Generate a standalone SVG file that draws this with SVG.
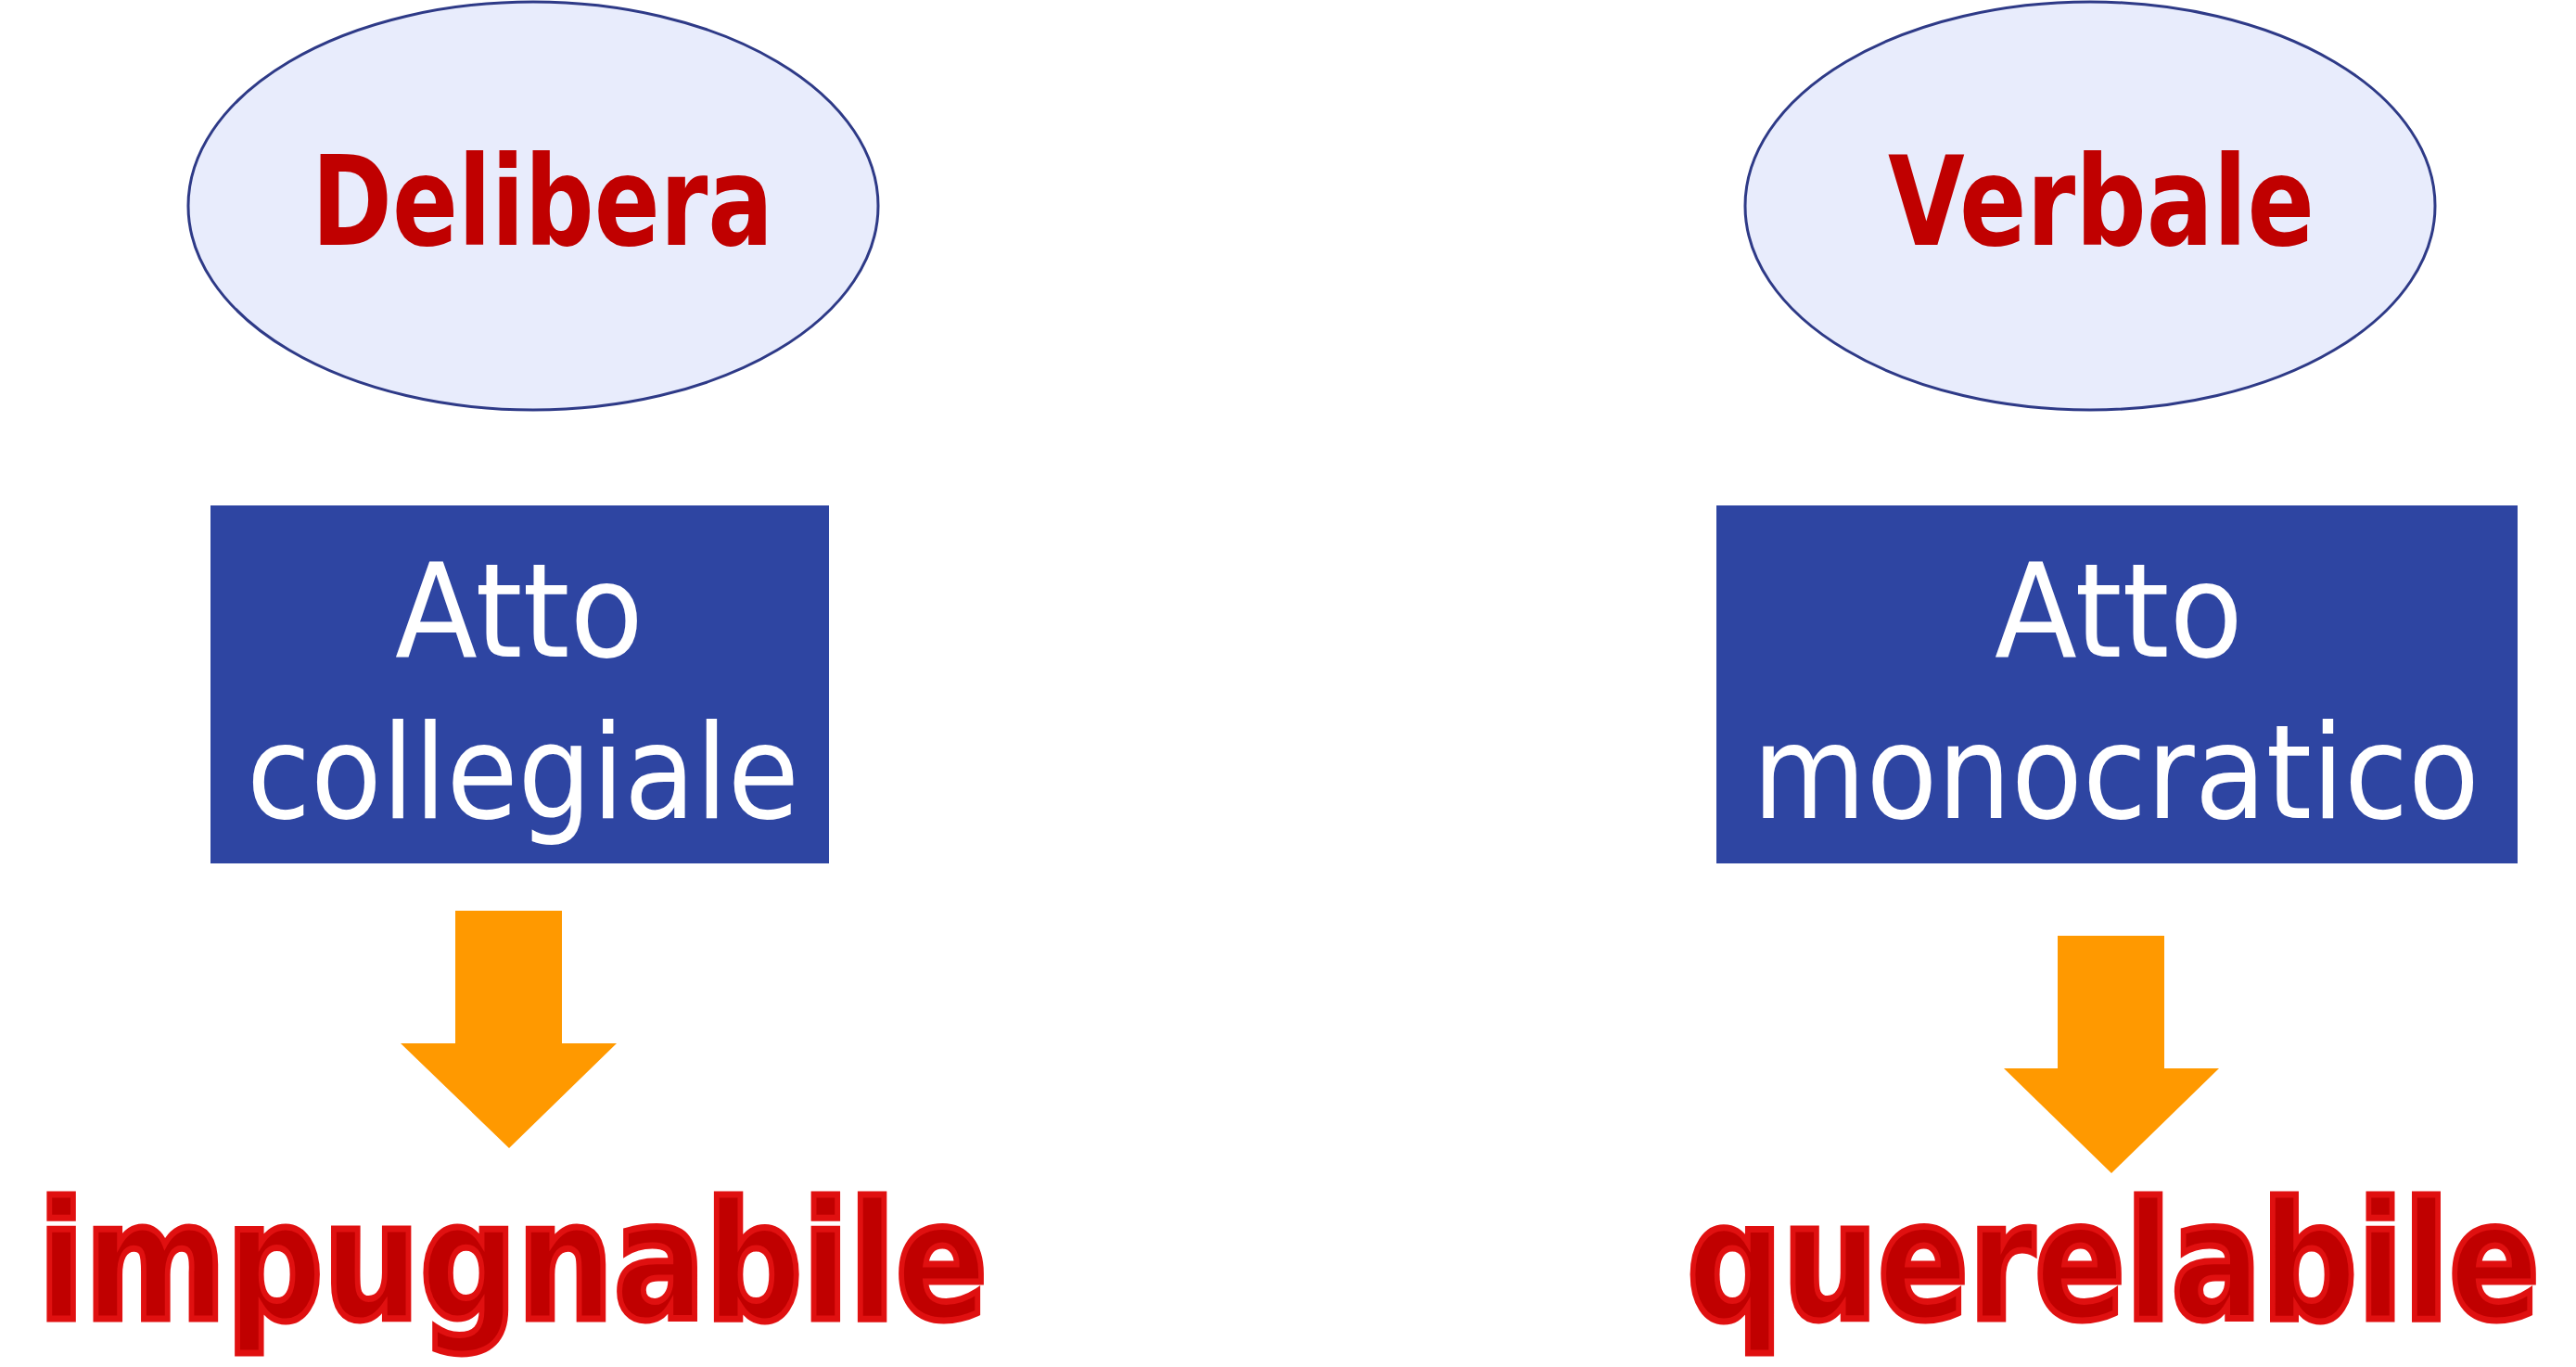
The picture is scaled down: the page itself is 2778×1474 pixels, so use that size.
<svg xmlns="http://www.w3.org/2000/svg" width="2778" height="1474" viewBox="0 0 2778 1474">
<style>
.ell{fill:#E8ECFC;stroke:#2E3A87;stroke-width:3}
.box{fill:#2E45A2}
.t1{font-family:"DejaVu Sans",sans-serif;font-weight:bold;font-size:134px;fill:#C00000;text-anchor:middle}
.t2{font-family:"DejaVu Sans",sans-serif;font-size:140px;fill:#fff;text-anchor:middle}
.t3{font-family:"DejaVu Sans",sans-serif;font-weight:bold;font-size:176px;fill:#C00000;stroke:#E01010;stroke-width:7;text-anchor:middle}
.arr{fill:#FF9900}
</style>
<rect width="2778" height="1474" fill="#fff"/>
<g id="delibera"><ellipse class="ell" cx="575" cy="222" rx="372" ry="220"/><text class="t1" x="585" y="264" textLength="498" lengthAdjust="spacingAndGlyphs">Delibera</text></g>
<g id="verbale"><ellipse class="ell" cx="2254" cy="222" rx="372" ry="220"/><text class="t1" x="2266" y="264" textLength="460" lengthAdjust="spacingAndGlyphs">Verbale</text></g>
<g id="collegiale"><rect class="box" x="227" y="545" width="667" height="386"/><text class="t2" x="560" y="708" textLength="268" lengthAdjust="spacingAndGlyphs">Atto</text><text class="t2" x="564" y="882" textLength="596" lengthAdjust="spacingAndGlyphs">collegiale</text></g>
<g id="monocratico"><rect class="box" x="1851" y="545" width="864" height="386"/><text class="t2" x="2285" y="708" textLength="268" lengthAdjust="spacingAndGlyphs">Atto</text><text class="t2" x="2282" y="882" textLength="784" lengthAdjust="spacingAndGlyphs">monocratico</text></g>
<g id="connectors">
<polygon class="arr" points="491,982 606,982 606,1125 665,1125 549,1238 432,1125 491,1125"/>
<polygon class="arr" points="2219,1009 2334,1009 2334,1152 2393,1152 2277,1265 2161,1152 2219,1152"/>
</g>
<g id="impugnabile"><text class="t3" x="553" y="1422" textLength="1024" lengthAdjust="spacingAndGlyphs">impugnabile</text></g>
<g id="querelabile"><text class="t3" x="2279" y="1422" textLength="920" lengthAdjust="spacingAndGlyphs">querelabile</text></g>
</svg>
